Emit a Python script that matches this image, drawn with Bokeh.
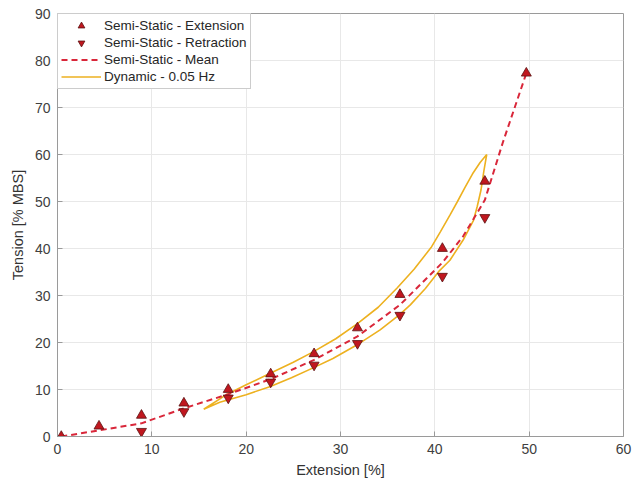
from bokeh.plotting import figure
from bokeh.models import Range1d, FixedTicker, Legend, LegendItem
from bokeh.embed import file_html
from bokeh.resources import INLINE

# Semi-static extension (up triangles)
ext_x = [0.4, 4.4, 8.9, 13.4, 18.1, 22.6, 27.2, 31.8, 36.3, 40.8, 45.3, 49.7]
ext_y = [0.0, 2.2, 4.5, 7.1, 10.0, 13.3, 17.6, 23.1, 30.2, 40.0, 54.3, 77.3]

# Semi-static retraction (down triangles)
ret_x = [8.9, 13.4, 18.1, 22.6, 27.2, 31.8, 36.3, 40.8, 45.3]
ret_y = [1.1, 5.3, 8.2, 11.6, 15.2, 19.8, 25.8, 34.1, 46.6]

# Semi-static mean (dashed)
mean_x = [0.4, 4.4, 8.9, 13.4, 18.1, 22.6, 27.2, 31.8, 36.3, 40.8, 43.0, 45.3, 47.2, 49.7]
mean_y = [0.0, 1.3, 2.8, 6.0, 9.0, 12.2, 16.3, 21.3, 28.0, 37.0, 42.6, 50.3, 62.5, 77.3]

# Dynamic 0.05 Hz loop (loading then unloading)
dyn_x = [15.5, 18.0, 20.0, 22.5, 25.0, 27.1, 29.5, 31.8, 34.0, 36.0, 37.8, 39.6, 40.6, 41.6, 42.4, 43.2, 44.0, 44.8, 45.5,
         45.2, 44.9, 44.5, 44.1, 43.0, 41.6, 40.5, 39.0, 37.4, 36.3, 34.2, 32.0, 29.2, 27.1, 24.8, 22.5, 20.0, 17.2, 15.5]
dyn_y = [5.8, 9.0, 11.0, 13.4, 15.8, 18.0, 20.8, 24.0, 27.5, 31.6, 35.6, 40.2, 43.6, 47.1, 50.0, 53.0, 55.9, 58.3, 60.0,
         56.5, 52.5, 49.0, 46.0, 41.8, 37.5, 35.3, 31.5, 28.0, 26.0, 22.7, 19.8, 16.6, 14.6, 12.5, 10.6, 8.9, 7.3, 5.8]

x_ticks = [0, 10, 20, 30, 40, 50, 60]
y_ticks = [0, 10, 20, 30, 40, 50, 60, 70, 80, 90]

FONT = "Liberation Sans"

p = figure(width=636, height=491, output_backend="svg", toolbar_location=None,
           x_range=Range1d(0, 60), y_range=Range1d(0, 90),
           min_border_left=57, min_border_right=13, min_border_top=13, min_border_bottom=55)

p.outline_line_color = "#9a9a9a"
p.outline_line_width = 1
p.background_fill_color = "white"
p.border_fill_color = "white"

for ax, ticks in ((p.xaxis, x_ticks), (p.yaxis, y_ticks)):
    ax.ticker = FixedTicker(ticks=ticks)
    ax.major_tick_in = 5
    ax.major_tick_out = 0
    ax.minor_tick_line_color = None
    ax.axis_line_color = "#9a9a9a"
    ax.major_tick_line_color = "#9a9a9a"
    ax.major_label_text_font = FONT
    ax.major_label_text_font_size = "14px"
    ax.major_label_text_color = "#404040"
    ax.axis_label_text_font = FONT
    ax.axis_label_text_font_size = "14.5px"
    ax.axis_label_text_font_style = "normal"
    ax.axis_label_text_color = "#333333"

p.xaxis.axis_label = "Extension [%]"
p.yaxis.axis_label = "Tension [% MBS]"
p.xaxis.major_label_standoff = 7
p.xaxis.axis_label_standoff = 5
p.yaxis.major_label_standoff = 7
p.yaxis.axis_label_standoff = 6

p.xgrid.grid_line_color = "#e8e8e8"
p.ygrid.grid_line_color = "#e8e8e8"

r_dyn = p.line(dyn_x, dyn_y, line_color="#EDB120", line_width=1.6)
r_mean = p.line(mean_x, mean_y, line_color="#d9273a", line_width=2, line_dash="6 4")
r_ext = p.scatter(ext_x, ext_y, marker="triangle", size=10,
                  fill_color="#c0171f", line_color="#5a1212", line_width=0.8)
r_ret = p.scatter(ret_x, ret_y, marker="inverted_triangle", size=10,
                  fill_color="#c0171f", line_color="#5a1212", line_width=0.8)

legend = Legend(items=[
    LegendItem(label="Semi-Static - Extension", renderers=[r_ext]),
    LegendItem(label="Semi-Static - Retraction", renderers=[r_ret]),
    LegendItem(label="Semi-Static - Mean", renderers=[r_mean]),
    LegendItem(label="Dynamic - 0.05 Hz", renderers=[r_dyn]),
], location="top_left")
legend.margin = 0
legend.padding = 3
legend.spacing = 0
legend.glyph_width = 40
legend.glyph_height = 17
legend.label_height = 17
legend.label_standoff = 3
legend.label_text_font = FONT
legend.label_text_font_size = "13.5px"
legend.label_text_color = "#262626"
legend.border_line_color = "#9a9a9a"
legend.border_line_width = 1
legend.background_fill_color = "white"
legend.background_fill_alpha = 1
p.add_layout(legend)

open("out.html", "w").write(file_html(p, INLINE))
